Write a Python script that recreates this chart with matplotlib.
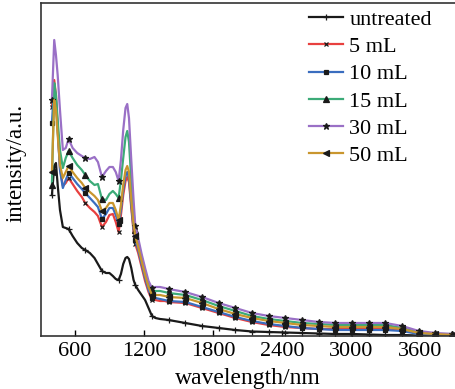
import numpy as np
import matplotlib
matplotlib.use("Agg")
import matplotlib.pyplot as plt

plt.rcParams['font.family'] = ['Liberation Serif', 'DejaVu Serif']
plt.rcParams['font.size'] = 16

# wavelength grid (nm), markers every 145 nm from 400 nm
wavelength = [400, 420, 435, 450, 470, 495, 520, 545, 580, 620, 660, 690, 730, 770,
              800, 835, 870, 900, 930, 955, 980, 1000, 1020, 1040, 1055, 1070, 1090,
              1110, 1125, 1150, 1180, 1210, 1240, 1270, 1300, 1340, 1380, 1415, 1560,
              1705, 1850, 1995, 2140, 2285, 2430, 2575, 2720, 2865, 3010, 3155, 3300,
              3445, 3590, 3735, 3880]
marker_idx = [0, 7, 11, 15, 20, 28, 33] + list(range(37, 55))

untreated = [141, 170, 173, 151, 126, 109, 108, 107, 100, 93, 88, 86, 83, 78, 72, 65,
             63, 63, 60, 57, 56, 62, 72, 78, 79, 77, 68, 56, 51, 46, 41, 36, 28, 20,
             18, 17, 16.5, 16, 13, 10, 8, 6, 4.5, 4, 3.5, 3, 2.5, 2, 2, 1.5, 1, 1,
             0.5, 0.5, 0]
ml_5 = [229, 256, 241, 208, 168, 150, 153, 158, 152, 145, 139, 133, 128, 124, 120, 109,
        114, 121, 122, 114, 104, 121, 141, 155, 159, 154, 128, 104, 92, 83, 69, 55, 44,
        36, 36, 35, 35, 34, 33, 28, 23, 18, 14, 11, 9, 8, 7, 7, 7, 7, 7, 6, 3, 1, 1]
ml_10 = [213, 251, 236, 206, 166, 148, 156, 163, 158, 152, 147, 143, 138, 133, 129, 117,
         122, 128, 128, 121, 112, 126, 146, 160, 164, 158, 131, 107, 96, 86, 72, 58, 46,
         38, 38, 37, 36, 35, 34, 29, 24, 19, 15, 12, 10, 8, 7, 6, 6, 6, 6, 5, 2, 1, 0]
ml_15 = [151, 253, 241, 216, 186, 168, 178, 185, 178, 171, 166, 161, 155, 151, 152, 137,
         136, 142, 145, 142, 138, 156, 178, 199, 205, 194, 156, 124, 106, 94, 79, 65, 52,
         45, 45, 45, 44, 43, 41, 36, 30, 25, 20, 17, 15, 13, 12, 11, 11, 11, 11, 8, 4, 2, 2]
ml_30 = [236, 296, 281, 261, 226, 186, 188, 197, 188, 183, 180, 178, 177, 179, 174, 159,
         165, 169, 169, 164, 155, 176, 206, 228, 232, 218, 176, 136, 110, 98, 82, 68, 55,
         48, 49, 49, 48, 47, 44, 39, 33, 28, 23, 20, 18, 16, 14, 13, 13, 13, 13, 10, 5, 3, 2]
ml_50 = [164, 236, 226, 201, 171, 158, 164, 170, 164, 158, 153, 148, 144, 140, 136, 125,
         128, 133, 133, 126, 116, 131, 151, 166, 170, 164, 136, 111, 100, 89, 75, 61, 49,
         41, 41, 41, 40, 39, 38, 33, 27, 22, 18, 15, 13, 11, 10, 9, 9, 9, 9, 7, 3, 2, 1]

labels = ['untreated', '5 mL', '10 mL', '15 mL', '30 mL', '50 mL']
series = [untreated, ml_5, ml_10, ml_15, ml_30, ml_50]
colors = ['#1a1a1a', '#e8403f', '#3a6dbf', '#3cab78', '#9a70c6', '#c9962e']
markers = ['+', 'x', 's', '^', '*', '<']
msizes = [5, 3.5, 2.8, 3.8, 5, 3.8]

fig = plt.figure(figsize=(4.55, 3.89), dpi=100)
ax = fig.add_axes([41 / 455, 53 / 389, 414 / 455, 333 / 389])

for y, lab, c, m, ms in zip(series, labels, colors, markers, msizes):
    ax.plot(wavelength, y, color=c, lw=1.6, label=lab, marker=m, markersize=ms,
            markevery=marker_idx, markerfacecolor='#1a1a1a',
            markeredgecolor='#1a1a1a', markeredgewidth=0.9)

ax.set_xlim(305, 3905)
ax.set_ylim(0, 333)
ax.set_xticks([600, 1200, 1800, 2400, 3000, 3600])
ax.set_yticks([])
ax.tick_params(axis='x', direction='in', length=4, width=1, labelsize=16, pad=4)
ax.spines['right'].set_visible(False)
for s in ['left', 'top', 'bottom']:
    ax.spines[s].set_linewidth(1.2)
    ax.spines[s].set_color('#333333')

ax.set_xlabel('wavelength/nm', fontsize=17)
ax.xaxis.set_label_coords(0.5, -0.095)
ax.set_ylabel('intensity/a.u.', fontsize=16.5)
ax.yaxis.set_label_coords(-0.034, 0.52)

ax.legend(loc='upper left', bbox_to_anchor=(305 / 455, 384 / 389),
          bbox_transform=fig.transFigure, frameon=False, fontsize=16,
          handlelength=1.5, handletextpad=0.3, labelspacing=0.3,
          borderpad=0.2, borderaxespad=0)

plt.savefig('out.png', dpi=100)
